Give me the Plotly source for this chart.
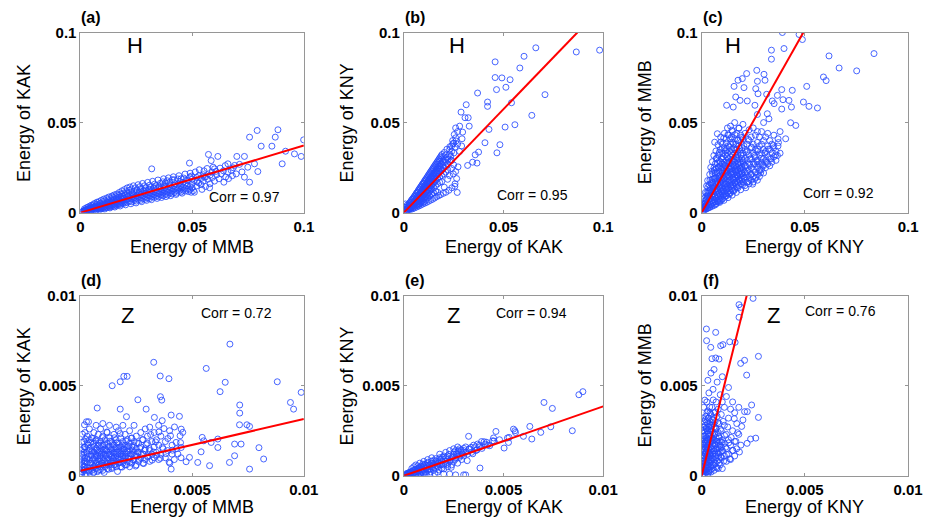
import plotly.graph_objects as go

# ---------------- data ----------------
panel_letters = ["(a)", "(b)", "(c)", "(d)", "(e)", "(f)"]
panel_kinds = ["H", "H", "H", "Z", "Z", "Z"]
x_names = ["MMB", "KAK", "KNY", "MMB", "KAK", "KNY"]
y_names = ["KAK", "KNY", "MMB", "KAK", "KNY", "MMB"]
corr_values = [0.97, 0.95, 0.92, 0.72, 0.94, 0.76]
fit_slopes = [0.373, 1.149, 2.03, 0.287, 0.385, 4.59]
fit_intercepts = [0.0, 0.0, 0.0, 0.00028, 0.0, 0.0]
axis_max = [0.1, 0.1, 0.1, 0.01, 0.01, 0.01]
tick_vals_H = [0, 0.05, 0.1]
tick_text_H = ["0", "0.05", "0.1"]
tick_vals_Z = [0, 0.005, 0.01]
tick_text_Z = ["0", "0.005", "0.01"]

a_pts = [
(0.0005,0.0002),(0.001,0.0006),(0.0015,0.0004),(0.0015,0.001),(0.002,0.0008),(0.002,0.0014),(0.0025,0.0006),(0.0025,0.0012),(0.003,0.001),(0.003,0.0018),(0.0035,0.0014),(0.0035,0.0022),(0.004,0.0012),(0.004,0.002),(0.0045,0.0016),(0.0045,0.0026),(0.005,0.0012),(0.005,0.0022),(0.005,0.003),(0.0055,0.0018),(0.0055,0.0027),(0.006,0.0014),(0.006,0.0024),(0.006,0.0034),(0.0065,0.002),(0.0065,0.003),(0.007,0.0016),(0.007,0.0026),(0.007,0.0037),(0.0075,0.0022),(0.0075,0.0033),(0.008,0.0018),(0.008,0.0028),(0.008,0.004),(0.0085,0.0024),(0.0085,0.0035),(0.009,0.002),(0.009,0.003),(0.009,0.0044),(0.0095,0.0026),(0.0095,0.0038),(0.010,0.0022),(0.010,0.0033),(0.010,0.0048),(0.0105,0.003),(0.0105,0.0042),(0.011,0.0026),(0.011,0.0037),(0.011,0.0052),(0.0115,0.0032),(0.0115,0.0046),(0.012,0.0028),(0.012,0.004),(0.012,0.0057),(0.0125,0.0035),(0.0125,0.005),(0.013,0.0031),(0.013,0.0044),(0.013,0.006),(0.0135,0.0038),(0.0135,0.0054),(0.014,0.0034),(0.014,0.0047),(0.014,0.0066),(0.0145,0.0042),(0.0145,0.0058),(0.015,0.0036),(0.015,0.005),(0.015,0.0072),(0.0155,0.0045),(0.0155,0.0062),(0.016,0.004),(0.016,0.0054),(0.016,0.0078),(0.0165,0.0048),(0.0165,0.0066),(0.017,0.0044),(0.017,0.0058),(0.017,0.0084),(0.0175,0.0052),(0.0175,0.007),(0.018,0.0046),(0.018,0.0062),(0.018,0.0088),(0.0185,0.0056),(0.0185,0.0075),(0.019,0.005),(0.019,0.0066),(0.019,0.0093),(0.0195,0.006),(0.0195,0.008),(0.020,0.0054),(0.020,0.007),(0.020,0.0098),(0.021,0.0058),(0.021,0.0076),(0.021,0.0088),(0.021,0.0104),(0.022,0.0064),(0.022,0.0082),(0.022,0.0095),(0.023,0.006),(0.023,0.0075),(0.023,0.0088),(0.023,0.011),(0.024,0.0068),(0.024,0.0082),(0.024,0.0098),(0.025,0.0064),(0.025,0.0078),(0.025,0.0093),(0.025,0.0115),(0.026,0.0072),(0.026,0.0088),(0.026,0.0104),(0.027,0.0068),(0.027,0.0083),(0.027,0.0098),(0.027,0.012),(0.028,0.0078),(0.028,0.0093),(0.028,0.011),(0.029,0.0074),(0.029,0.0088),(0.029,0.0104),(0.029,0.0125),(0.030,0.0082),(0.030,0.0098),(0.030,0.0115),(0.031,0.0078),(0.031,0.0093),(0.031,0.011),(0.031,0.013),(0.032,0.0088),(0.032,0.0104),(0.032,0.0122),(0.0319,0.0243),(0.033,0.0085),(0.033,0.0098),(0.033,0.0115),(0.033,0.0138),(0.034,0.0092),(0.034,0.0109),(0.034,0.0128),(0.035,0.0088),(0.035,0.0104),(0.035,0.012),(0.035,0.0145),(0.036,0.0098),(0.036,0.0114),(0.036,0.0132),(0.037,0.0094),(0.037,0.0108),(0.037,0.0125),(0.037,0.015),(0.038,0.0102),(0.038,0.0118),(0.038,0.0138),(0.038,0.0165),(0.039,0.0098),(0.039,0.0113),(0.039,0.013),(0.040,0.0108),(0.040,0.0124),(0.040,0.0145),(0.040,0.017),(0.041,0.0104),(0.041,0.0118),(0.041,0.0135),(0.042,0.0112),(0.042,0.013),(0.042,0.015),(0.042,0.0182),(0.043,0.0108),(0.043,0.0124),(0.043,0.0142),(0.044,0.0118),(0.044,0.0136),(0.044,0.016),(0.045,0.0114),(0.045,0.013),(0.045,0.015),(0.045,0.0188),(0.046,0.0124),(0.046,0.0142),(0.046,0.0168),(0.047,0.012),(0.047,0.0136),(0.047,0.0158),(0.048,0.013),(0.048,0.015),(0.048,0.0178),(0.0488,0.0275),(0.049,0.0126),(0.049,0.0145),(0.049,0.0198),(0.050,0.0138),(0.050,0.016),(0.050,0.0185),(0.051,0.0113),(0.051,0.0178),(0.052,0.0148),(0.052,0.0195),(0.053,0.0165),(0.053,0.0205),(0.054,0.0155),(0.054,0.019),(0.055,0.0175),(0.055,0.021),(0.056,0.0145),(0.056,0.0198),(0.057,0.0185),(0.0573,0.0323),(0.058,0.016),(0.058,0.0208),(0.0585,0.0289),(0.059,0.0195),(0.059,0.0225),(0.060,0.0243),(0.060,0.0175),(0.061,0.021),(0.0615,0.0312),(0.062,0.0188),(0.063,0.0215),(0.0642,0.0169),(0.064,0.0232),(0.065,0.0198),(0.066,0.0271),(0.066,0.0225),(0.0675,0.0234),(0.068,0.0205),(0.069,0.0262),(0.0697,0.0215),(0.070,0.0312),(0.0734,0.0312),(0.0734,0.0197),(0.0749,0.0252),(0.0757,0.0169),(0.0757,0.0419),(0.0779,0.0271),(0.0791,0.0456),(0.0794,0.0228),(0.0809,0.0369),(0.0857,0.0369),(0.0872,0.0419),(0.0884,0.046),(0.0903,0.0271),(0.0918,0.0341),(0.0958,0.0326),(0.0988,0.0312),(0.0999,0.0404),
(0.0012,0.0009),(0.0018,0.0021),(0.0023,0.0004),(0.0027,0.0027),(0.0031,0.0008),(0.0034,0.0031),(0.0038,0.0017),(0.0042,0.0036),(0.0046,0.0009),(0.0049,0.0041),(0.0052,0.0016),(0.0057,0.0044),(0.0061,0.0029),(0.0063,0.0051),(0.0068,0.0011),(0.0072,0.0047),(0.0074,0.0058),(0.0078,0.0032),(0.0083,0.0061),(0.0086,0.0015),(0.0088,0.0052),(0.0093,0.0068),(0.0097,0.0034),(0.0101,0.0062),(0.0104,0.0075),(0.0108,0.0019),(0.0112,0.0067),(0.0117,0.0081),(0.0121,0.0049),(0.0124,0.0072),(0.0128,0.0087),(0.0132,0.0026),(0.0137,0.0078),(0.0141,0.0092),(0.0143,0.0058),(0.0148,0.0084),(0.0151,0.0098),(0.0154,0.0031),(0.0158,0.0089),(0.0162,0.0103),(0.0167,0.0072),(0.0171,0.0096),(0.0174,0.0112),(0.0178,0.0037),(0.0182,0.0104),(0.0186,0.0121),(0.0189,0.0081),(0.0193,0.0109),(0.0197,0.0128),(0.0202,0.0043),(0.0206,0.0116),(0.0209,0.0137),(0.0213,0.0093),(0.0218,0.0124),(0.0221,0.0142),(0.0226,0.0049),(0.0229,0.0131),(0.0233,0.0104),(0.0237,0.0149),(0.0241,0.0118),(0.0246,0.0138),(0.0249,0.0054),(0.0253,0.0127),(0.0258,0.0155),(0.0262,0.0112),(0.0266,0.0144),(0.0271,0.0133),(0.0274,0.0061),(0.0278,0.0162),(0.0283,0.0121),(0.0287,0.0149),(0.0292,0.0138),(0.0296,0.0068),(0.0301,0.0168),(0.0305,0.0127),(0.0309,0.0152),(0.0314,0.0143),(0.0318,0.0072),(0.0323,0.0174),(0.0327,0.0136),(0.0332,0.0158),(0.0338,0.0149),(0.0343,0.0079),(0.0347,0.0181),(0.0352,0.0139),(0.0358,0.0163),(0.0363,0.0084),(0.0368,0.0171),(0.0372,0.0188),(0.0377,0.0146),(0.0383,0.0089),(0.0388,0.0177),(0.0394,0.0193),(0.0398,0.0155),(0.0404,0.0094),(0.0411,0.0183),(0.0416,0.0199),(0.0423,0.0161),(0.0428,0.0101),(0.0436,0.0187),(0.0441,0.0205),(0.0447,0.0172),(0.0455,0.0108),(0.0462,0.0192),(0.0468,0.0214),(0.0474,0.0179),(0.0483,0.0117),(0.0491,0.0219),(0.0497,0.0203),(0.0506,0.0122),(0.0514,0.0226),(0.0521,0.0171),(0.0532,0.0238),(0.0544,0.0129),(0.0553,0.0232),(0.0567,0.0245),(0.0578,0.0138),(0.0594,0.0252),(0.0607,0.0229),(0.0625,0.0247),(0.0648,0.0261),(0.0663,0.0189),(0.0684,0.0249),(0.0712,0.0268),(0.0723,0.0226),(0.0555,0.0197),(0.0496,0.0113),
]

b_pts = [
(0.0005,0.0005),(0.001,0.0015),(0.001,0.0008),(0.0015,0.002),(0.0015,0.001),(0.002,0.0025),(0.002,0.0015),(0.0025,0.0035),(0.0025,0.002),(0.003,0.0045),(0.003,0.003),(0.003,0.0018),(0.0035,0.004),(0.0035,0.0025),(0.004,0.006),(0.004,0.0045),(0.004,0.003),(0.0045,0.0055),(0.0045,0.0035),(0.005,0.0075),(0.005,0.0058),(0.005,0.0042),(0.005,0.003),(0.0055,0.0065),(0.0055,0.0048),(0.006,0.009),(0.006,0.0072),(0.006,0.0055),(0.006,0.004),(0.0065,0.0082),(0.0065,0.0062),(0.0065,0.0045),(0.007,0.011),(0.007,0.0095),(0.007,0.0075),(0.007,0.0058),(0.007,0.004),(0.0075,0.0088),(0.0075,0.0068),(0.0075,0.005),(0.008,0.0125),(0.008,0.0105),(0.008,0.0085),(0.008,0.0065),(0.008,0.0048),(0.0085,0.0115),(0.0085,0.0095),(0.0085,0.0075),(0.0085,0.0055),(0.009,0.014),(0.009,0.012),(0.009,0.0102),(0.009,0.0082),(0.009,0.0062),(0.0095,0.013),(0.0095,0.011),(0.0095,0.0088),(0.0095,0.0068),(0.010,0.016),(0.010,0.0138),(0.010,0.0118),(0.010,0.0098),(0.010,0.0078),(0.010,0.0058),(0.0105,0.015),(0.0105,0.0128),(0.0105,0.0105),(0.0105,0.0085),(0.011,0.0175),(0.011,0.0155),(0.011,0.0135),(0.011,0.0115),(0.011,0.0092),(0.011,0.007),(0.0115,0.0165),(0.0115,0.0142),(0.0115,0.012),(0.0115,0.0098),(0.012,0.019),(0.012,0.0168),(0.012,0.0148),(0.012,0.0128),(0.012,0.0105),(0.012,0.0082),(0.0125,0.018),(0.0125,0.0158),(0.0125,0.0135),(0.0125,0.011),(0.013,0.0205),(0.013,0.0185),(0.013,0.0162),(0.013,0.014),(0.013,0.0118),(0.013,0.0092),(0.0135,0.0195),(0.0135,0.017),(0.0135,0.0148),(0.0135,0.0125),(0.014,0.022),(0.014,0.0198),(0.014,0.0175),(0.014,0.0152),(0.014,0.013),(0.014,0.0102),(0.0145,0.021),(0.0145,0.0185),(0.0145,0.016),(0.015,0.024),(0.015,0.0215),(0.015,0.019),(0.015,0.0165),(0.015,0.014),(0.015,0.011),(0.0155,0.0225),(0.0155,0.0198),(0.0155,0.0172),(0.016,0.0255),(0.016,0.023),(0.016,0.0205),(0.016,0.018),(0.016,0.015),(0.016,0.012),(0.0165,0.0242),(0.0165,0.0215),(0.017,0.027),(0.017,0.0245),(0.017,0.022),(0.017,0.0192),(0.017,0.016),(0.017,0.0113),(0.0175,0.026),(0.0175,0.0232),(0.018,0.0285),(0.018,0.0258),(0.018,0.0228),(0.018,0.0198),(0.018,0.0168),(0.0185,0.0272),(0.0185,0.0242),(0.019,0.0298),(0.019,0.0268),(0.019,0.0235),(0.019,0.0205),(0.019,0.0172),(0.0195,0.0285),(0.020,0.031),(0.020,0.028),(0.020,0.0248),(0.020,0.0215),(0.0203,0.0141),(0.021,0.0295),(0.021,0.026),(0.021,0.0225),(0.021,0.032),(0.022,0.0308),(0.022,0.0272),(0.022,0.0238),(0.022,0.0185),(0.023,0.0325),(0.023,0.0285),(0.023,0.035),(0.023,0.0205),(0.024,0.034),(0.024,0.029),(0.024,0.037),(0.024,0.0245),(0.0237,0.029),(0.0245,0.04),(0.0248,0.0215),(0.025,0.0385),(0.025,0.0265),(0.0253,0.0434),(0.0257,0.0364),(0.0257,0.016),(0.026,0.0415),(0.026,0.0228),(0.027,0.045),(0.028,0.048),(0.027,0.038),(0.028,0.034),(0.029,0.037),(0.026,0.047),(0.0287,0.0558),(0.0292,0.041),(0.0295,0.0447),(0.0307,0.0527),(0.0313,0.0599),(0.032,0.0262),(0.0323,0.0527),(0.0328,0.048),(0.0345,0.028),(0.0358,0.0321),(0.0367,0.0275),(0.037,0.0664),(0.0375,0.0336),(0.0407,0.0388),(0.042,0.0614),(0.042,0.059),(0.0427,0.0462),(0.0458,0.0837),(0.0458,0.075),(0.0465,0.0683),(0.0467,0.0332),(0.0482,0.0377),(0.0492,0.0748),(0.0508,0.0475),(0.0512,0.0696),(0.0533,0.0738),(0.054,0.061),(0.0557,0.0488),(0.0582,0.0803),(0.0603,0.0868),(0.0642,0.054),(0.0662,0.0915),(0.0708,0.0655),(0.0865,0.0892),(0.0982,0.0902),
(0.0003,0.0012),(0.0006,0.0028),(0.0008,0.0048),(0.0009,0.0004),(0.0012,0.0031),(0.0014,0.0006),(0.0017,0.0042),(0.0019,0.0011),(0.0022,0.0037),(0.0024,0.0012),(0.0027,0.0051),(0.0029,0.0024),(0.0032,0.0058),(0.0034,0.0016),(0.0037,0.0067),(0.0039,0.0036),(0.0042,0.0074),(0.0044,0.0021),(0.0047,0.0081),(0.0049,0.0049),(0.0052,0.0089),(0.0054,0.0026),(0.0057,0.0097),(0.0059,0.0063),(0.0062,0.0106),(0.0064,0.0031),(0.0067,0.0113),(0.0069,0.0068),(0.0072,0.0122),(0.0074,0.0036),(0.0077,0.0131),(0.0079,0.0092),(0.0082,0.0139),(0.0084,0.0041),(0.0087,0.0147),(0.0089,0.0109),(0.0092,0.0156),(0.0094,0.0047),(0.0097,0.0163),(0.0099,0.0127),(0.0102,0.0172),(0.0104,0.0052),(0.0107,0.0181),(0.0109,0.0143),(0.0112,0.0188),(0.0114,0.0057),(0.0117,0.0197),(0.0119,0.0158),(0.0122,0.0206),(0.0124,0.0063),(0.0127,0.0214),(0.0129,0.0173),(0.0132,0.0223),(0.0134,0.0069),(0.0137,0.0231),(0.0139,0.0188),(0.0142,0.0239),(0.0144,0.0074),(0.0147,0.0248),(0.0149,0.0203),(0.0152,0.0256),(0.0154,0.0081),(0.0157,0.0265),(0.0159,0.0218),(0.0162,0.0272),(0.0164,0.0088),(0.0167,0.0281),(0.0169,0.0233),(0.0172,0.0289),(0.0174,0.0094),(0.0177,0.0298),(0.0179,0.0246),(0.0182,0.0306),(0.0184,0.0099),(0.0187,0.0315),(0.0192,0.0323),(0.0196,0.0262),(0.0198,0.0107),(0.0203,0.0334),(0.0207,0.0279),(0.0211,0.0113),(0.0216,0.0352),(0.0221,0.0296),(0.0226,0.0124),(0.0231,0.0366),(0.0235,0.0313),(0.0241,0.0138),(0.0246,0.0383),(0.0251,0.0331),(0.0256,0.0146),(0.0262,0.0398),(0.0265,0.0189),(0.0268,0.0112),(0.0272,0.0254),
]

c_pts = [
(0.0005,0.001),(0.0005,0.003),(0.001,0.002),(0.001,0.005),(0.001,0.0008),(0.0015,0.0035),(0.0015,0.0065),(0.0015,0.0015),(0.002,0.003),(0.002,0.0055),(0.002,0.009),(0.002,0.0018),(0.0025,0.004),(0.0025,0.0075),(0.0025,0.011),(0.003,0.0025),(0.003,0.0055),(0.003,0.0095),(0.003,0.014),(0.0035,0.004),(0.0035,0.0072),(0.0035,0.012),(0.004,0.003),(0.004,0.006),(0.004,0.0092),(0.004,0.0135),(0.004,0.018),(0.0045,0.0045),(0.0045,0.0078),(0.0045,0.0115),(0.0045,0.016),(0.005,0.0035),(0.005,0.0065),(0.005,0.0098),(0.005,0.0135),(0.005,0.0185),(0.005,0.023),(0.0055,0.0052),(0.0055,0.0085),(0.0055,0.012),(0.0055,0.0165),(0.006,0.004),(0.006,0.007),(0.006,0.0105),(0.006,0.0145),(0.006,0.019),(0.006,0.025),(0.0063,0.0391),(0.0065,0.006),(0.0065,0.009),(0.0065,0.0128),(0.0065,0.017),(0.0065,0.022),(0.007,0.005),(0.007,0.008),(0.007,0.0112),(0.007,0.015),(0.007,0.0195),(0.007,0.0245),(0.007,0.03),(0.0076,0.0438),(0.0075,0.0068),(0.0075,0.0098),(0.0075,0.0135),(0.0075,0.0175),(0.0075,0.022),(0.0075,0.0275),(0.008,0.0058),(0.008,0.0088),(0.008,0.012),(0.008,0.016),(0.008,0.02),(0.008,0.025),(0.008,0.032),(0.0085,0.0075),(0.0085,0.0108),(0.0085,0.0145),(0.0085,0.0185),(0.0085,0.023),(0.0085,0.0285),(0.009,0.0065),(0.009,0.0095),(0.009,0.013),(0.009,0.017),(0.009,0.021),(0.009,0.026),(0.009,0.035),(0.0092,0.0419),(0.0095,0.0085),(0.0095,0.0118),(0.0095,0.0155),(0.0095,0.0195),(0.0095,0.024),(0.0095,0.03),(0.010,0.0075),(0.010,0.0105),(0.010,0.014),(0.010,0.018),(0.010,0.022),(0.010,0.027),(0.010,0.033),(0.010,0.038),(0.0105,0.0095),(0.0105,0.0128),(0.0105,0.0165),(0.0105,0.0205),(0.0105,0.025),(0.0105,0.031),(0.011,0.0085),(0.011,0.0115),(0.011,0.015),(0.011,0.019),(0.011,0.023),(0.011,0.028),(0.011,0.036),(0.011,0.044),(0.0115,0.0105),(0.0115,0.0138),(0.0115,0.0175),(0.0115,0.0215),(0.0115,0.026),(0.0115,0.032),(0.012,0.0092),(0.012,0.0125),(0.012,0.016),(0.012,0.02),(0.012,0.024),(0.012,0.029),(0.012,0.035),(0.012,0.041),(0.0121,0.0596),(0.0125,0.0112),(0.0125,0.0148),(0.0125,0.0188),(0.0125,0.0228),(0.0125,0.0275),(0.0125,0.033),(0.0125,0.047),(0.013,0.0102),(0.013,0.0135),(0.013,0.017),(0.013,0.021),(0.013,0.025),(0.013,0.03),(0.013,0.037),(0.013,0.043),(0.0135,0.0122),(0.0135,0.0158),(0.0135,0.0198),(0.0135,0.024),(0.0135,0.028),(0.0135,0.034),(0.014,0.0112),(0.014,0.0145),(0.014,0.0182),(0.014,0.022),(0.014,0.026),(0.014,0.031),(0.014,0.038),(0.014,0.048),(0.0145,0.0135),(0.0145,0.017),(0.0145,0.021),(0.0145,0.0245),(0.0145,0.029),(0.0145,0.035),(0.0145,0.042),(0.015,0.012),(0.015,0.0155),(0.015,0.0195),(0.015,0.023),(0.015,0.027),(0.015,0.032),(0.015,0.039),(0.015,0.045),(0.0153,0.0586),(0.0157,0.0701),(0.0155,0.0145),(0.0155,0.018),(0.0155,0.0215),(0.0155,0.025),(0.0155,0.03),(0.0155,0.036),(0.016,0.013),(0.016,0.0165),(0.016,0.02),(0.016,0.0235),(0.016,0.028),(0.016,0.033),(0.016,0.041),(0.016,0.05),(0.0165,0.0642),(0.0165,0.0155),(0.0165,0.019),(0.0165,0.0225),(0.0165,0.026),(0.0165,0.031),(0.0165,0.038),(0.017,0.014),(0.017,0.0175),(0.017,0.021),(0.017,0.025),(0.017,0.029),(0.017,0.035),(0.017,0.044),(0.0175,0.0165),(0.0175,0.02),(0.0175,0.0235),(0.0175,0.027),(0.0175,0.032),(0.0175,0.04),(0.0176,0.0735),(0.018,0.015),(0.018,0.0185),(0.018,0.022),(0.018,0.026),(0.018,0.03),(0.018,0.037),(0.018,0.047),(0.0186,0.0623),(0.0185,0.0175),(0.0185,0.021),(0.0185,0.0245),(0.0185,0.028),(0.0185,0.034),(0.019,0.016),(0.019,0.0195),(0.019,0.023),(0.019,0.027),(0.019,0.032),(0.019,0.039),(0.019,0.043),(0.0197,0.0744),(0.0195,0.0185),(0.0195,0.022),(0.0195,0.0255),(0.0195,0.03),(0.0195,0.036),(0.020,0.017),(0.020,0.0205),(0.020,0.024),(0.020,0.028),(0.020,0.033),(0.020,0.041),(0.020,0.049),(0.0205,0.0694),(0.021,0.015),(0.021,0.019),(0.021,0.0225),(0.021,0.026),(0.021,0.03),(0.021,0.035),(0.021,0.044),(0.0218,0.0772),(0.0221,0.062),(0.022,0.017),(0.022,0.021),(0.022,0.025),(0.022,0.029),(0.022,0.034),(0.022,0.038),(0.023,0.016),(0.023,0.0195),(0.023,0.0235),(0.023,0.027),(0.023,0.032),(0.023,0.04),(0.023,0.046),(0.024,0.018),(0.024,0.0215),(0.024,0.025),(0.024,0.03),(0.024,0.036),(0.024,0.042),(0.025,0.017),(0.025,0.02),(0.025,0.024),(0.025,0.028),(0.025,0.033),(0.025,0.038),(0.025,0.047),(0.026,0.019),(0.026,0.0225),(0.026,0.027),(0.026,0.031),(0.026,0.035),(0.026,0.043),(0.0258,0.0596),(0.0262,0.0688),(0.0267,0.079),(0.027,0.0729),(0.027,0.0545),(0.0273,0.066),(0.027,0.018),(0.027,0.021),(0.027,0.025),(0.027,0.029),(0.027,0.034),(0.027,0.039),(0.027,0.045),(0.028,0.02),(0.028,0.023),(0.028,0.027),(0.028,0.032),(0.028,0.037),(0.028,0.042),(0.0286,0.0221),(0.029,0.024),(0.029,0.028),(0.029,0.033),(0.029,0.038),(0.029,0.045),(0.030,0.022),(0.030,0.026),(0.030,0.03),(0.030,0.035),(0.030,0.04),(0.030,0.05),(0.0302,0.0768),(0.0307,0.0735),(0.0315,0.0657),(0.0318,0.0549),(0.031,0.025),(0.031,0.029),(0.031,0.034),(0.031,0.042),(0.032,0.027),(0.032,0.031),(0.032,0.037),(0.032,0.044),(0.0326,0.0521),(0.033,0.026),(0.033,0.03),(0.033,0.035),(0.033,0.04),(0.0338,0.0902),(0.0338,0.0852),(0.0342,0.062),(0.0351,0.0605),(0.0342,0.0332),(0.034,0.028),(0.034,0.038),(0.035,0.031),(0.035,0.036),(0.035,0.043),(0.036,0.029),(0.036,0.034),(0.0367,0.0317),(0.0367,0.0651),(0.037,0.037),(0.037,0.041),(0.038,0.033),(0.038,0.045),(0.0388,0.0683),(0.0388,0.0575),(0.0391,0.1),(0.0394,0.0627),(0.0399,0.0911),(0.0407,0.041),(0.0423,0.0623),(0.0431,0.0499),(0.0435,0.0586),(0.0439,0.0679),(0.0456,0.0484),(0.0472,0.0989),(0.0488,0.0961),(0.0493,0.0614),(0.0509,0.0701),(0.052,0.059),(0.0561,0.0581),(0.059,0.0753),(0.0603,0.0733),(0.0617,0.087),(0.0666,0.0803),(0.0751,0.0787),(0.0835,0.0883),
(0.0003,0.0021),(0.0007,0.0042),(0.0009,0.0013),(0.0012,0.0078),(0.0014,0.0027),(0.0017,0.0049),(0.0018,0.0112),(0.0021,0.0038),(0.0022,0.0071),(0.0024,0.0148),(0.0026,0.0023),(0.0028,0.0087),(0.0029,0.0178),(0.0032,0.0046),(0.0033,0.0109),(0.0036,0.0154),(0.0037,0.0029),(0.0039,0.0212),(0.0041,0.0077),(0.0043,0.0125),(0.0044,0.0251),(0.0047,0.0042),(0.0048,0.0171),(0.0051,0.0093),(0.0052,0.0283),(0.0053,0.0214),(0.0056,0.0058),(0.0058,0.0137),(0.0059,0.0317),(0.0061,0.0236),(0.0063,0.0087),(0.0064,0.0189),(0.0066,0.0271),(0.0068,0.0045),(0.0069,0.0342),(0.0071,0.0128),(0.0073,0.0219),(0.0074,0.0302),(0.0076,0.0061),(0.0078,0.0162),(0.0079,0.0377),(0.0081,0.0253),(0.0083,0.0104),(0.0084,0.0204),(0.0086,0.0336),(0.0088,0.0057),(0.0089,0.0143),(0.0091,0.0281),(0.0093,0.0392),(0.0094,0.0182),(0.0096,0.0072),(0.0098,0.0247),(0.0099,0.0355),(0.0102,0.0121),(0.0103,0.0298),(0.0106,0.0191),(0.0107,0.0414),(0.0108,0.0068),(0.0111,0.0262),(0.0113,0.0159),(0.0114,0.0343),(0.0116,0.0093),(0.0118,0.0229),(0.0119,0.0387),(0.0122,0.0136),(0.0123,0.0311),(0.0126,0.0205),(0.0127,0.0432),(0.0128,0.0083),(0.0131,0.0276),(0.0133,0.0178),(0.0134,0.0364),(0.0136,0.0104),(0.0138,0.0242),(0.0139,0.0411),(0.0142,0.0153),(0.0143,0.0327),(0.0146,0.0223),(0.0147,0.0458),(0.0148,0.0097),(0.0151,0.0291),(0.0153,0.0188),(0.0154,0.0382),(0.0156,0.0121),(0.0158,0.0259),(0.0161,0.0433),(0.0163,0.0168),(0.0164,0.0346),(0.0166,0.0237),(0.0168,0.0112),(0.0171,0.0307),(0.0173,0.0201),(0.0174,0.0402),(0.0176,0.0138),(0.0178,0.0273),(0.0181,0.0468),(0.0183,0.0183),(0.0184,0.0358),(0.0187,0.0247),(0.0189,0.0127),(0.0191,0.0319),(0.0193,0.0214),(0.0196,0.0418),(0.0198,0.0153),(0.0201,0.0288),(0.0204,0.0372),(0.0207,0.0196),(0.0211,0.0263),(0.0214,0.0138),(0.0217,0.0334),(0.0222,0.0229),(0.0226,0.0407),(0.0229,0.0173),(0.0233,0.0297),(0.0238,0.0211),(0.0242,0.0364),(0.0247,0.0158),(0.0251,0.0268),(0.0256,0.0318),(0.0262,0.0196),(0.0268,0.0283),(0.0273,0.0351),(0.0281,0.0238),(0.0289,0.0302),(0.0296,0.0264),(0.0307,0.0331),(0.0313,0.0279),(0.0322,0.0352),(0.0336,0.0298),(0.0347,0.0372),(0.0358,0.0321),(0.0372,0.0389),
]

d_pts = [
(0.00005,0.0001),(0.00005,0.0004),(0.00005,0.0008),(0.00005,0.0012),(0.0001,0.0002),(0.0001,0.0006),(0.0001,0.001),(0.0001,0.0015),(0.00015,0.0003),(0.00015,0.0008),(0.00015,0.0013),(0.00015,0.0019),(0.0002,0.0001),(0.0002,0.0005),(0.0002,0.001),(0.0002,0.0016),(0.0002,0.0024),(0.00018,0.00283),(0.00027,0.003),(0.00036,0.003),(0.0003,0.0003),(0.0003,0.0007),(0.0003,0.0012),(0.0003,0.0018),(0.0003,0.0022),(0.0004,0.0002),(0.0004,0.0005),(0.0004,0.0009),(0.0004,0.0014),(0.0004,0.002),(0.0004,0.0026),(0.0005,0.0003),(0.0005,0.0007),(0.0005,0.0011),(0.0005,0.0016),(0.0005,0.0021),(0.0006,0.0002),(0.0006,0.0005),(0.0006,0.0009),(0.0006,0.0013),(0.0006,0.0018),(0.0006,0.0024),(0.0007,0.0004),(0.0007,0.0007),(0.0007,0.0011),(0.0007,0.0015),(0.0007,0.002),(0.0007,0.0028),(0.00075,0.00376),(0.0008,0.0003),(0.0008,0.0006),(0.0008,0.0009),(0.0008,0.0013),(0.0008,0.0017),(0.0008,0.0023),(0.0009,0.0005),(0.0009,0.0008),(0.0009,0.0011),(0.0009,0.0015),(0.0009,0.0019),(0.0009,0.0026),(0.001,0.0003),(0.001,0.0006),(0.001,0.001),(0.001,0.0013),(0.001,0.0017),(0.001,0.0022),(0.001,0.0029),(0.0011,0.0005),(0.0011,0.0008),(0.0011,0.0012),(0.0011,0.0015),(0.0011,0.002),(0.0012,0.0004),(0.0012,0.0007),(0.0012,0.001),(0.0012,0.0014),(0.0012,0.0018),(0.0012,0.0024),(0.0013,0.0006),(0.0013,0.0009),(0.0013,0.0012),(0.0013,0.0016),(0.0013,0.0021),(0.0013,0.0028),(0.0014,0.0004),(0.0014,0.0008),(0.0014,0.0011),(0.0014,0.0015),(0.0014,0.0019),(0.00142,0.005),(0.0015,0.0006),(0.0015,0.001),(0.0015,0.0013),(0.0015,0.0017),(0.0015,0.0023),(0.0016,0.0005),(0.0016,0.0008),(0.0016,0.0012),(0.0016,0.0016),(0.0016,0.002),(0.0016,0.0027),(0.0017,0.0007),(0.0017,0.001),(0.0017,0.0014),(0.0017,0.0018),(0.0017,0.0025),(0.00178,0.00522),(0.00178,0.0037),(0.0018,0.0005),(0.0018,0.0009),(0.0018,0.0012),(0.0018,0.0016),(0.0018,0.0021),(0.0019,0.0007),(0.0019,0.0011),(0.0019,0.0015),(0.0019,0.0019),(0.0019,0.0028),(0.00194,0.00552),(0.002,0.0006),(0.002,0.001),(0.002,0.0013),(0.002,0.0017),(0.002,0.0023),(0.00206,0.00328),(0.00209,0.00552),(0.0021,0.0008),(0.0021,0.0012),(0.0021,0.0016),(0.0021,0.002),(0.0022,0.0005),(0.0022,0.001),(0.0022,0.0014),(0.0022,0.0018),(0.0022,0.0025),(0.0023,0.0007),(0.0023,0.0012),(0.0023,0.0016),(0.0023,0.0021),(0.0024,0.0009),(0.0024,0.0013),(0.0024,0.0019),(0.0024,0.0028),(0.0025,0.0006),(0.0025,0.0011),(0.0025,0.0015),(0.0025,0.0022),(0.00257,0.00422),(0.0026,0.0008),(0.0026,0.0013),(0.0026,0.0018),(0.0027,0.001),(0.0027,0.0016),(0.0027,0.0024),(0.0028,0.0007),(0.0028,0.0012),(0.0028,0.002),(0.0029,0.0009),(0.0029,0.0015),(0.0029,0.0026),(0.00294,0.0037),(0.003,0.0011),(0.003,0.0018),(0.003,0.0022),(0.0031,0.0008),(0.0031,0.0014),(0.0031,0.0027),(0.0032,0.0012),(0.0032,0.0019),(0.00328,0.0063),(0.00331,0.00324),(0.0033,0.001),(0.0033,0.0016),(0.0033,0.0024),(0.0034,0.0013),(0.0034,0.002),(0.0035,0.0009),(0.0035,0.0017),(0.0035,0.0028),(0.00357,0.00554),(0.00358,0.00439),(0.00364,0.0042),(0.00366,0.00306),(0.0036,0.0012),(0.0036,0.0022),(0.0037,0.0015),(0.0038,0.001),(0.0038,0.0019),(0.0039,0.0014),(0.00396,0.00539),(0.00399,0.0025),(0.00403,0.00222),(0.00406,0.00337),(0.00406,0.00037),(0.004,0.0007),(0.0041,0.0012),(0.0041,0.0017),(0.0042,0.0009),(0.0043,0.0015),(0.00428,0.00185),(0.00443,0.0033),(0.00446,0.00222),(0.00451,0.00259),(0.00451,0.00157),(0.00458,0.00241),(0.0045,0.001),(0.00473,0.00078),(0.00488,0.00102),(0.00525,0.00074),(0.0054,0.00133),(0.00545,0.00213),(0.00552,0.00194),(0.00563,0.00596),(0.00578,0.00056),(0.00585,0.00185),(0.00615,0.00204),(0.00615,0.00157),(0.00625,0.00467),(0.00648,0.00519),(0.00667,0.00074),(0.00669,0.00731),(0.0069,0.00111),(0.0069,0.00176),(0.00712,0.00283),(0.00713,0.00393),(0.00713,0.00348),(0.00719,0.00176),(0.00745,0.00283),(0.00757,0.00274),(0.00757,0.00037),(0.00799,0.00156),(0.0082,0.00093),(0.00881,0.00522),(0.0094,0.00407),(0.00954,0.0037),(0.00988,0.00463),
(0.00003,0.00021),(0.00007,0.00063),(0.00004,0.00142),(0.00008,0.00187),(0.00011,0.00034),(0.00013,0.00117),(0.00009,0.00231),(0.00016,0.00052),(0.00018,0.00158),(0.00021,0.00079),(0.00023,0.00203),(0.00026,0.00012),(0.00027,0.00131),(0.00029,0.00094),(0.00032,0.00046),(0.00034,0.00171),(0.00036,0.00108),(0.00038,0.00029),(0.00041,0.00152),(0.00043,0.00071),(0.00045,0.00186),(0.00047,0.00118),(0.00049,0.00041),(0.00052,0.00139),(0.00054,0.00087),(0.00056,0.00207),(0.00058,0.00016),(0.00061,0.00161),(0.00063,0.00102),(0.00065,0.00054),(0.00067,0.00124),(0.00069,0.00193),(0.00072,0.00078),(0.00074,0.00143),(0.00076,0.00023),(0.00078,0.00112),(0.00081,0.00182),(0.00083,0.00063),(0.00085,0.00134),(0.00087,0.00096),(0.00089,0.00033),(0.00092,0.00167),(0.00094,0.00121),(0.00096,0.00072),(0.00098,0.00212),(0.00102,0.00144),(0.00104,0.00089),(0.00106,0.00018),(0.00108,0.00176),(0.00112,0.00113),(0.00114,0.00061),(0.00116,0.00138),(0.00118,0.00243),(0.00122,0.00084),(0.00124,0.00161),(0.00126,0.00036),(0.00128,0.00119),(0.00132,0.00192),(0.00134,0.00071),(0.00136,0.00142),(0.00138,0.00102),(0.00142,0.00047),(0.00144,0.00173),(0.00146,0.00126),(0.00148,0.00088),(0.00152,0.00211),(0.00154,0.00149),(0.00156,0.00063),(0.00158,0.00108),(0.00162,0.00183),(0.00164,0.00131),(0.00166,0.00024),(0.00168,0.00092),(0.00172,0.00158),(0.00174,0.00117),(0.00176,0.00074),(0.00178,0.00234),(0.00182,0.00138),(0.00184,0.00101),(0.00186,0.00048),(0.00188,0.00171),(0.00192,0.00123),(0.00194,0.00083),(0.00196,0.00149),(0.00202,0.00109),(0.00204,0.00192),(0.00206,0.00061),(0.00211,0.00137),(0.00214,0.00097),(0.00217,0.00164),(0.00221,0.00074),(0.00224,0.00121),(0.00227,0.00208),(0.00232,0.00143),(0.00235,0.00089),(0.00238,0.00167),(0.00243,0.00112),(0.00247,0.00054),(0.00251,0.00183),(0.00256,0.00131),(0.00261,0.00092),(0.00266,0.00152),(0.00272,0.00119),(0.00277,0.00201),(0.00283,0.00068),(0.00288,0.00141),(0.00294,0.00173),(0.00301,0.00104),(0.00308,0.00151),(0.00314,0.00229),(0.00321,0.00087),(0.00327,0.00132),(0.00336,0.00188),(0.00342,0.00114),(0.00351,0.00243),(0.00358,0.00097),(0.00367,0.00158),(0.00374,0.00262),(0.00382,0.00123),(0.00391,0.00207),(0.00397,0.00076),(0.00412,0.00142),(0.00421,0.00271),(0.00436,0.00121),(0.00448,0.00184),
]

e_pts = [
(0.00005,0.00002),(0.0001,0.0001),(0.00015,0.00005),(0.0002,0.00015),(0.0002,0.00005),(0.00025,0.0001),(0.0003,0.0002),(0.0003,0.00005),(0.00035,0.00012),(0.0004,0.00025),(0.0004,0.00008),(0.0004,0.0004),(0.00045,0.00015),(0.0005,0.0003),(0.0005,0.0001),(0.0005,0.0005),(0.00055,0.0002),(0.0006,0.00035),(0.0006,0.0001),(0.0006,0.0006),(0.00065,0.00022),(0.0007,0.0004),(0.0007,0.00012),(0.0007,0.00055),(0.00075,0.00028),(0.0008,0.00045),(0.0008,0.00015),(0.0008,0.0007),(0.00085,0.0003),(0.0009,0.0005),(0.0009,0.0002),(0.0009,0.0004),(0.00095,0.00065),(0.001,0.0003),(0.001,0.00055),(0.001,0.00012),(0.001,0.0008),(0.0011,0.0004),(0.0011,0.0006),(0.0011,0.0002),(0.0012,0.0005),(0.0012,0.00075),(0.0012,0.0003),(0.0012,0.0009),(0.0013,0.00035),(0.0013,0.0006),(0.0013,0.0001),(0.0014,0.0005),(0.0014,0.0007),(0.0014,0.001),(0.0015,0.0003),(0.0015,0.0006),(0.0015,0.00085),(0.0016,0.0004),(0.0016,0.0007),(0.0016,0.00095),(0.0017,0.0005),(0.0017,0.0008),(0.0017,0.0002),(0.0018,0.00065),(0.0018,0.001),(0.0018,0.0012),(0.0019,0.0004),(0.0019,0.0008),(0.002,0.0006),(0.002,0.0009),(0.002,0.0011),(0.002,0.0001),(0.0021,0.0007),(0.0021,0.0013),(0.0022,0.0005),(0.0022,0.0009),(0.0022,0.0011),(0.0023,0.0008),(0.0023,0.0014),(0.0023,0.0001),(0.0024,0.0006),(0.0024,0.001),(0.0025,0.0012),(0.0025,0.0015),(0.0025,0.0008),(0.0026,0.001),(0.0026,0.0014),(0.0026,0.00005),(0.0027,0.0012),(0.0027,0.0016),(0.0027,0.0007),(0.0028,0.0011),(0.0028,0.0015),(0.0029,0.0013),(0.0029,0.0009),(0.003,0.0014),(0.003,0.0011),(0.0030,0.00005),(0.0031,0.00005),(0.0031,0.0016),(0.0032,0.0012),(0.00325,0.00219),(0.0033,0.0015),(0.0034,0.0013),(0.0035,0.0017),(0.0036,0.0014),(0.0037,0.00176),(0.0038,0.0016),(0.00382,0.00043),(0.0039,0.0019),(0.00403,0.00189),(0.00408,0.00176),(0.0042,0.0017),(0.00445,0.00194),(0.0045,0.0021),(0.00462,0.00246),(0.0048,0.002),(0.00503,0.00154),(0.0052,0.0021),(0.00525,0.00185),(0.00528,0.00213),(0.0055,0.00259),(0.00557,0.0025),(0.0056,0.0024),(0.006,0.00219),(0.00632,0.00274),(0.00642,0.00204),(0.00687,0.00241),(0.00703,0.00407),(0.00737,0.00272),(0.00745,0.00374),(0.00845,0.0025),(0.00878,0.0045),(0.00898,0.00467),
(0.00012,0.00004),(0.00018,0.00011),(0.00023,0.00002),(0.00027,0.00016),(0.00032,0.00009),(0.00037,0.00021),(0.00042,0.00003),(0.00046,0.00027),(0.00051,0.00014),(0.00056,0.00033),(0.00061,0.00006),(0.00066,0.00038),(0.00071,0.00024),(0.00076,0.00045),(0.00082,0.00009),(0.00087,0.00051),(0.00092,0.00031),(0.00097,0.00018),(0.00103,0.00062),(0.00107,0.00043),(0.00113,0.00009),(0.00118,0.00068),(0.00123,0.00038),(0.00128,0.00056),(0.00134,0.00021),(0.00139,0.00081),(0.00144,0.00046),(0.00149,0.00064),(0.00155,0.00012),(0.00161,0.00083),(0.00166,0.00057),(0.00172,0.00071),(0.00177,0.00032),(0.00183,0.00091),(0.00189,0.00062),(0.00194,0.00103),(0.00201,0.00038),(0.00207,0.00081),(0.00213,0.00101),(0.00219,0.00064),(0.00226,0.00119),(0.00232,0.00086),(0.00238,0.00047),(0.00245,0.00107),(0.00252,0.00132),(0.00258,0.00091),(0.00264,0.00121),(0.00272,0.00138),(0.00279,0.00102),(0.00286,0.00143),(0.00293,0.00119),(0.00301,0.00152),(0.00312,0.00131),(0.00318,0.00084),(0.00326,0.00147),(0.00337,0.00158),(0.00346,0.00122),(0.00358,0.00161),(0.00367,0.00143),(0.00378,0.00169),(0.00392,0.00152),(0.00415,0.00186),(0.00431,0.00167),(0.00452,0.00193),
]

f_pts = [
(0.00002,0.0002),(0.00002,0.0008),(0.00002,0.0015),(0.00002,0.0025),(0.00005,0.0001),(0.00005,0.0005),(0.00005,0.0011),(0.00005,0.0018),(0.00005,0.0032),(0.00008,0.0003),(0.00008,0.0008),(0.00008,0.0014),(0.00008,0.0022),(0.0001,0.0001),(0.0001,0.0005),(0.0001,0.001),(0.0001,0.0017),(0.0001,0.0027),(0.0001,0.0038),(0.00013,0.0003),(0.00013,0.0007),(0.00013,0.0013),(0.00013,0.002),(0.00013,0.003),(0.00015,0.0001),(0.00015,0.0005),(0.00015,0.0009),(0.00015,0.0016),(0.00015,0.0024),(0.00015,0.0042),(0.00018,0.0003),(0.00018,0.0007),(0.00018,0.0012),(0.00018,0.0019),(0.00018,0.0028),(0.0002,0.0002),(0.0002,0.0005),(0.0002,0.001),(0.0002,0.0015),(0.0002,0.0022),(0.0002,0.0033),(0.00023,0.00815),(0.00024,0.0075),(0.00023,0.0004),(0.00023,0.0008),(0.00023,0.0013),(0.00023,0.0018),(0.00023,0.0026),(0.00025,0.0002),(0.00025,0.0006),(0.00025,0.0011),(0.00025,0.0016),(0.00025,0.0021),(0.00025,0.003),(0.00025,0.0041),(0.00028,0.0004),(0.00028,0.0009),(0.00028,0.0014),(0.00028,0.0019),(0.00028,0.0025),(0.0003,0.0001),(0.0003,0.0006),(0.0003,0.0011),(0.0003,0.0017),(0.0003,0.0023),(0.0003,0.0029),(0.0003,0.0036),(0.0003,0.0053),(0.00033,0.0003),(0.00033,0.0008),(0.00033,0.0013),(0.00033,0.002),(0.00033,0.0027),(0.00035,0.0002),(0.00035,0.0005),(0.00035,0.001),(0.00035,0.0015),(0.00035,0.0022),(0.00035,0.0032),(0.00035,0.0046),(0.00038,0.0007),(0.00038,0.0012),(0.00038,0.0018),(0.00038,0.0025),(0.0004,0.0003),(0.0004,0.0009),(0.0004,0.0014),(0.0004,0.002),(0.0004,0.0028),(0.0004,0.0035),(0.00044,0.00713),(0.00043,0.0005),(0.00043,0.0011),(0.00043,0.0016),(0.00043,0.0023),(0.00043,0.003),(0.00045,0.0002),(0.00045,0.0008),(0.00045,0.0013),(0.00045,0.0019),(0.00045,0.0026),(0.00045,0.0057),(0.0005,0.0004),(0.0005,0.001),(0.0005,0.0015),(0.0005,0.0021),(0.0005,0.0028),(0.0005,0.0038),(0.0005,0.0065),(0.00055,0.0006),(0.00055,0.0012),(0.00055,0.0018),(0.00055,0.0024),(0.00055,0.0031),(0.00055,0.0048),(0.0006,0.0003),(0.0006,0.0009),(0.0006,0.0014),(0.0006,0.002),(0.0006,0.0027),(0.0006,0.0035),(0.0006,0.0059),(0.00065,0.0007),(0.00065,0.0012),(0.00065,0.0017),(0.00065,0.0023),(0.00065,0.003),(0.00068,0.00796),(0.00068,0.00654),(0.0007,0.0005),(0.0007,0.001),(0.0007,0.0015),(0.0007,0.0021),(0.0007,0.0026),(0.0007,0.0041),(0.00075,0.0008),(0.00075,0.0013),(0.00075,0.0019),(0.00075,0.0033),(0.00075,0.0052),(0.0008,0.0004),(0.0008,0.0011),(0.0008,0.0017),(0.0008,0.0024),(0.0008,0.0037),(0.00084,0.00648),(0.00085,0.0009),(0.00085,0.0015),(0.00085,0.0021),(0.00085,0.0029),(0.0009,0.0006),(0.0009,0.0013),(0.0009,0.0019),(0.0009,0.0045),(0.00092,0.00722),(0.00095,0.001),(0.00095,0.0016),(0.00095,0.0025),(0.00095,0.0034),(0.001,0.0004),(0.001,0.0014),(0.001,0.002),(0.001,0.0041),(0.001,0.0055),(0.00103,0.00728),(0.0011,0.0011),(0.0011,0.0018),(0.0011,0.0028),(0.0011,0.0038),(0.0012,0.0008),(0.0012,0.0015),(0.0012,0.0023),(0.0012,0.0044),(0.0013,0.0012),(0.0013,0.002),(0.0013,0.0032),(0.0013,0.0049),(0.00136,0.00744),(0.0014,0.0009),(0.0014,0.0017),(0.0014,0.0037),(0.0015,0.0014),(0.0015,0.0025),(0.0015,0.0041),(0.0016,0.0011),(0.0016,0.0019),(0.0016,0.0035),(0.00162,0.00741),(0.0017,0.0015),(0.0017,0.0029),(0.0018,0.0023),(0.0018,0.0038),(0.00181,0.0095),(0.00181,0.0088),(0.00189,0.00935),(0.00189,0.00624),(0.0019,0.0017),(0.002,0.0031),(0.00208,0.00641),(0.00208,0.00356),(0.00218,0.00559),(0.00221,0.00356),(0.0022,0.0018),(0.00237,0.00204),(0.00242,0.00393),(0.00249,0.00985),(0.00262,0.00209),(0.00275,0.00663),(0.00275,0.00324),
(0.00001,0.00031),(0.00003,0.00112),(0.00004,0.00203),(0.00006,0.00067),(0.00007,0.00251),(0.00009,0.00148),(0.00011,0.00083),(0.00012,0.00221),(0.00014,0.00034),(0.00016,0.00183),(0.00017,0.00311),(0.00019,0.00121),(0.00021,0.00264),(0.00022,0.00072),(0.00024,0.00198),(0.00026,0.00351),(0.00027,0.00142),(0.00029,0.00046),(0.00031,0.00234),(0.00032,0.00318),(0.00034,0.00171),(0.00036,0.00089),(0.00037,0.00272),(0.00039,0.00382),(0.00041,0.00124),(0.00042,0.00211),(0.00044,0.00341),(0.00046,0.00057),(0.00047,0.00163),(0.00049,0.00247),(0.00051,0.00312),(0.00052,0.00094),(0.00054,0.00196),(0.00056,0.00421),(0.00057,0.00138),(0.00059,0.00289),(0.00061,0.00061),(0.00062,0.00231),(0.00064,0.00176),(0.00066,0.00354),(0.00067,0.00108),(0.00069,0.00264),(0.00072,0.00192),(0.00073,0.00043),(0.00076,0.00151),(0.00078,0.00296),(0.00081,0.00127),(0.00083,0.00218),(0.00086,0.00072),(0.00088,0.00168),(0.00091,0.00258),(0.00093,0.00104),(0.00097,0.00187),(0.00101,0.00139),(0.00104,0.00302),(0.00107,0.00081),(0.00111,0.00224),(0.00116,0.00158),(0.00121,0.00118),(0.00126,0.00271),(0.00131,0.00183),(0.00137,0.00094),(0.00143,0.00213),(0.00151,0.00141),(0.00158,0.00317),(0.00166,0.00191),(0.00174,0.00239),(0.00183,0.00132),(0.00194,0.00274),
]

all_points = [a_pts, b_pts, c_pts, d_pts, e_pts, f_pts]

# ---------------- layout geometry (target pixels) ----------------
W, H = 928, 524
col_px = [(79.5, 303), (403, 602.5), (701, 907.5)]
row_px = [(32, 212), (295, 475)]
# the returned picture is squeezed a little; positions below are given in
# picture pixels and mapped back to figure pixels
X_OFF, X_SCALE = 3.0, 0.98
Y_OFF, Y_SCALE = 8.5, 0.967

def fx(px):
    d = (px - X_OFF) / X_SCALE
    return d / W

def fy(py):
    d = (py - Y_OFF) / Y_SCALE
    return 1 - d / H

BLUE = "rgb(40,75,255)"
FONT = "Arial, Liberation Sans, sans-serif"

fig = go.Figure()
annotations = []
layout_axes = {}

for i in range(6):
    r, c = divmod(i, 3)
    n = i + 1
    xa = "x" if n == 1 else f"x{n}"
    ya = "y" if n == 1 else f"y{n}"
    pts = all_points[i]
    xs = [p[0] for p in pts]
    ys = [p[1] for p in pts]
    fig.add_trace(go.Scatter(
        x=xs, y=ys, mode="markers", xaxis=xa, yaxis=ya, showlegend=False,
        marker=dict(symbol="circle-open", size=6, color=BLUE,
                    line=dict(width=1.0, color=BLUE), opacity=0.85),
        hoverinfo="skip",
    ))
    m = axis_max[i]
    x_end = min(m, (m - fit_intercepts[i]) / fit_slopes[i])
    lx = [0, x_end]
    ly = [fit_intercepts[i], fit_intercepts[i] + fit_slopes[i] * x_end]
    fig.add_trace(go.Scatter(
        x=lx, y=ly, mode="lines", xaxis=xa, yaxis=ya, showlegend=False,
        line=dict(color="rgb(255,0,0)", width=2), hoverinfo="skip",
    ))

    tv = tick_vals_H if m == 0.1 else tick_vals_Z
    tt = tick_text_H if m == 0.1 else tick_text_Z
    x0, x1 = col_px[c]
    y0, y1 = row_px[r]
    common = dict(
        range=[0, m], tickvals=tv, ticktext=tt, showgrid=False, zeroline=False,
        showline=True, linecolor="rgb(150,150,150)", linewidth=1, mirror="ticks",
        ticks="inside", ticklen=3, tickcolor="rgb(150,150,150)",
        tickfont=dict(family=FONT, size=15, color="black", weight="bold"),
        fixedrange=True,
    )
    layout_axes["xaxis" if n == 1 else f"xaxis{n}"] = dict(
        common, domain=[fx(x0), fx(x1)], anchor=ya)
    layout_axes["yaxis" if n == 1 else f"yaxis{n}"] = dict(
        common, domain=[fy(y1), fy(y0)], anchor=xa)

    cx = (x0 + x1) / 2
    cy = (y0 + y1) / 2
    title_y = min(y1 + 34, 506)
    annotations.append(dict(
        x=fx(cx), y=fy(title_y), xref="paper", yref="paper", showarrow=False,
        text=f"Energy of {x_names[i]}", xanchor="center", yanchor="middle",
        font=dict(family=FONT, size=18, color="black")))
    annotations.append(dict(
        x=fx(x0 - 57), y=fy(cy), xref="paper", yref="paper", showarrow=False,
        text=f"Energy of {y_names[i]}", xanchor="center", yanchor="middle",
        textangle=-90, font=dict(family=FONT, size=18, color="black")))
    annotations.append(dict(
        x=fx(x0 - 1), y=fy(y0 - 15), xref="paper", yref="paper", showarrow=False,
        text=panel_letters[i], xanchor="left", yanchor="middle",
        font=dict(family=FONT, size=16, color="black", weight="bold")))

kind_pos = [(134, 45), (456, 45), (732, 45), (127, 315), (453, 315), (773, 315)]
corr_pos = [(244, 196), (532, 194), (838, 192), (236, 312), (531, 312), (840, 310)]
for i in range(6):
    annotations.append(dict(
        x=fx(kind_pos[i][0]), y=fy(kind_pos[i][1]), xref="paper", yref="paper",
        showarrow=False, text=panel_kinds[i], xanchor="center", yanchor="middle",
        font=dict(family=FONT, size=22, color="black")))
    annotations.append(dict(
        x=fx(corr_pos[i][0]), y=fy(corr_pos[i][1]), xref="paper", yref="paper",
        showarrow=False, text=f"Corr = {corr_values[i]:.2f}", xanchor="center",
        yanchor="middle", font=dict(family=FONT, size=14, color="black")))

fig.update_layout(
    width=W, height=H, margin=dict(l=0, r=0, t=0, b=0),
    paper_bgcolor="white", plot_bgcolor="white",
    annotations=annotations, showlegend=False, **layout_axes,
)

fig.write_html("out.html", config={"displayModeBar": False})
